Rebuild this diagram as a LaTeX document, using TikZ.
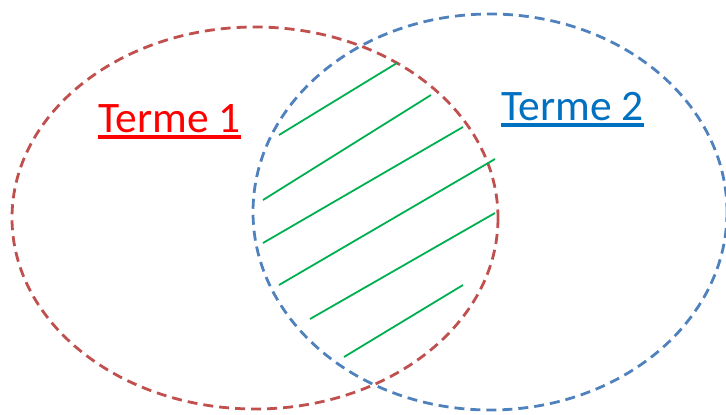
\documentclass[tikz,border=0pt]{standalone}
\usepackage{fontspec}
\setmainfont{Carlito}
\usepackage{tikz}

\definecolor{setred}{HTML}{C0504D}
\definecolor{setblue}{HTML}{4F81BD}
\definecolor{hatchgreen}{HTML}{00B050}
\definecolor{labelblue}{HTML}{0070C0}

% underlined label
\newcommand{\ulabel}[1]{\setbox0\hbox{#1}\rlap{\rule[-6.5pt]{\wd0}{3.5pt}}\box0}

\begin{document}
\begin{tikzpicture}[x=1pt,y=-1pt,
	setline/.style={line width=2.8pt, dash pattern=on 10pt off 6pt},
	hatch/.style={hatchgreen, line width=1.8pt}]
	\useasboundingbox (0,0) rectangle (726,415);

	% Draw sets
	%Terme 1
	\draw[setline, color=setred] (255,218) ellipse [x radius=243, y radius=191];
	%Terme 2
	\draw[setline, color=setblue] (490,212) ellipse [x radius=237, y radius=198];

	% Hatch the intersection
	\draw[hatch] (279,135) -- (397,63);
	\draw[hatch] (263,200) -- (431,95);
	\draw[hatch] (263,243) -- (463,127);
	\draw[hatch] (279,285) -- (495,159);
	\draw[hatch] (310,319) -- (495,213);
	\draw[hatch] (344,357) -- (463,285);

	%Add set labels
	\node (terme1) at (98,132) [anchor=base west, inner sep=0pt, text=red, font=\fontsize{43.5}{52}\selectfont] {\ulabel{Terme 1}};
	\node (terme2) at (501,120) [anchor=base west, inner sep=0pt, text=labelblue, font=\fontsize{43.5}{52}\selectfont] {\ulabel{Terme 2}};

\end{tikzpicture}
\end{document}
